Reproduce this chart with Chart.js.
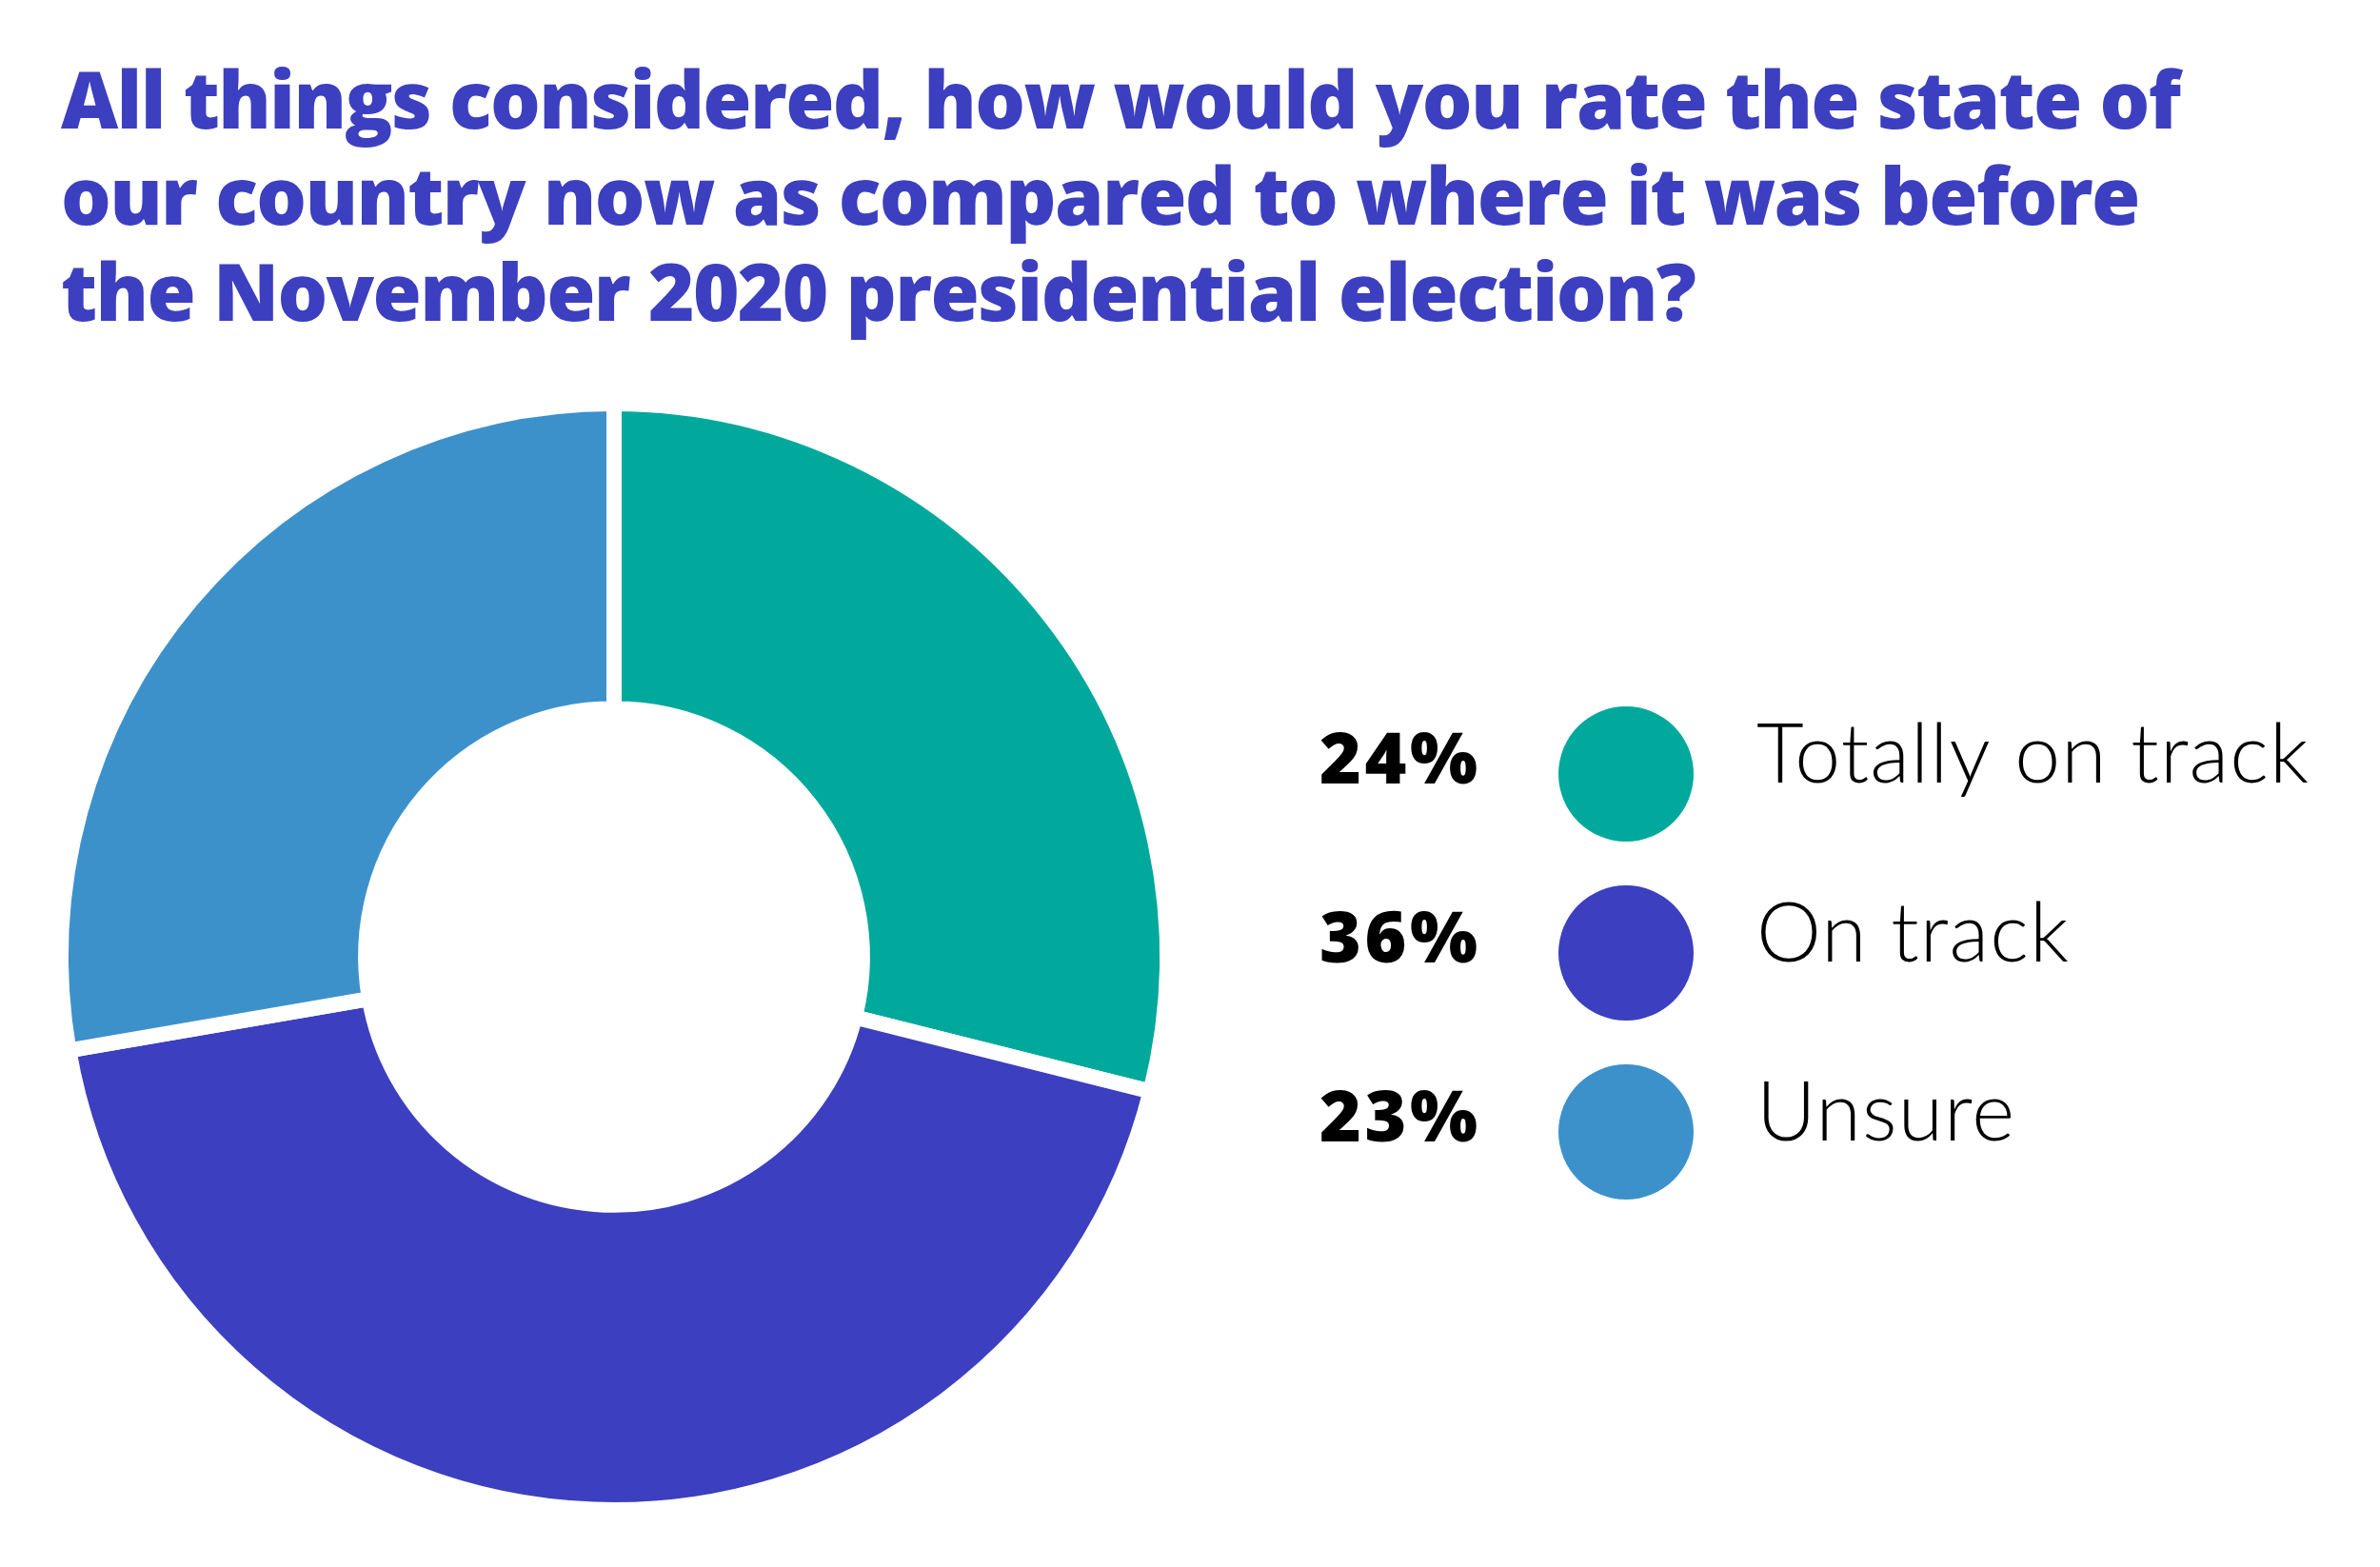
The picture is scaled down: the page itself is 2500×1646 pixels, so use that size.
<!DOCTYPE html>
<html>
<head>
<meta charset="utf-8">
<script src="https://cdn.jsdelivr.net/npm/chart.js@4.4.1/dist/chart.umd.min.js"></script>
<style>
  html, body { margin: 0; padding: 0; background: #ffffff; }
  #wrap { width: 2500px; height: 1646px; position: relative; }
</style>
</head>
<body>
<div id="wrap"><canvas id="donut" width="2500" height="1646"></canvas></div>
<script>
const titleLines = [
  'All things considered, how would you rate the state of',
  'our country now as compared to where it was before',
  'the November 2020 presidential election?'
];
const categories = ['Totally on track', 'On track', 'Unsure'];
const shares = [24, 36, 23];
const sliceColors = ['#00a99c', '#3c3fbf', '#3d91cb'];

const titleColor = '#3c3fbf';

// espacement des lettres pour qu'un texte fasse la largeur voulue
function fitSpacing(ctx, text, target) {
  ctx.letterSpacing = '0px';
  const w = ctx.measureText(text).width;
  return (target - w) / (text.length - 1);
}

// titre et légende dessinés à la main sur le canvas
const decorPlugin = {
  id: 'decor',
  afterDraw(chart) {
    const ctx = chart.ctx;
    ctx.save();
    ctx.textAlign = 'left';
    ctx.textBaseline = 'alphabetic';

    // titre
    ctx.fillStyle = titleColor;
    ctx.font = '800 83px "Open Sans"';
    const ts = fitSpacing(ctx, titleLines[0], 2227);
    ctx.letterSpacing = ts + 'px';
    titleLines.forEach((line, i) => {
      ctx.fillText(line, 64, 135 + i * 101);
    });

    // légende
    const ds = chart.data.datasets[0];
    ctx.font = '800 75px "Open Sans"';
    const ps = fitSpacing(ctx, '24%', 166);
    ctx.font = '300 86px Lato';
    const ls = fitSpacing(ctx, categories[0], 580);

    chart.data.labels.forEach((lab, i) => {
      const cy = 813 + i * 188;
      ctx.fillStyle = '#000000';
      ctx.font = '800 75px "Open Sans"';
      ctx.letterSpacing = ps + 'px';
      ctx.fillText(ds.data[i] + '%', 1386, cy + 10);

      ctx.beginPath();
      ctx.arc(1708, cy, 71, 0, Math.PI * 2);
      ctx.fillStyle = ds.backgroundColor[i];
      ctx.fill();

      ctx.fillStyle = '#000000';
      ctx.font = '300 86px Lato';
      ctx.letterSpacing = ls + 'px';
      ctx.fillText(lab, 1845, cy + 9);
    });

    ctx.restore();
  }
};

new Chart(document.getElementById('donut'), {
  type: 'doughnut',
  data: {
    labels: categories,
    datasets: [{
      data: shares,
      backgroundColor: sliceColors,
      borderColor: '#ffffff',
      borderWidth: 16,
      hoverOffset: 0
    }]
  },
  options: {
    responsive: false,
    devicePixelRatio: 1,
    animation: false,
    events: [],
    cutout: '44.9%',
    layout: { padding: { left: 56, top: 416, right: 1266, bottom: 52 } },
    plugins: {
      legend: { display: false },
      tooltip: { enabled: false },
      title: { display: false }
    }
  },
  plugins: [decorPlugin]
});
</script>
</body>
</html>
